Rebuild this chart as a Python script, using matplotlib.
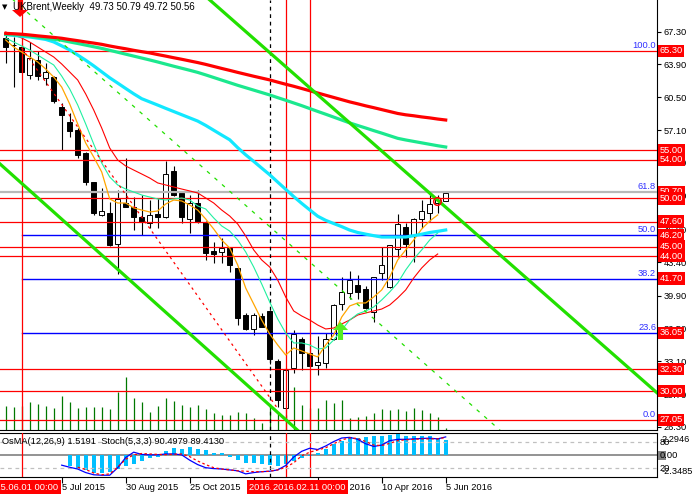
import numpy as np
import matplotlib
matplotlib.use("Agg")
import matplotlib.pyplot as plt
from matplotlib.transforms import blended_transform_factory

plt.rcParams['font.family'] = ['Liberation Sans', 'DejaVu Sans']
FS = 6.7

# weekly bars, index 0 = week of 17 May 2015 ... index 55 = week of 5 Jun 2016
opens = [66.62, 65.95, 65.74, 62.81, 64.36, 62.47, 62.63, 59.52, 57.96, 57.10,
         54.68, 51.68, 48.26, 48.53, 45.28, 49.56, 49.15, 48.05, 47.49, 48.39,
         48.05, 52.84, 50.54, 47.84, 49.50, 47.59, 44.58, 44.48, 44.83, 42.76,
         37.92, 36.43, 37.80, 38.36, 33.14, 28.24, 32.38, 35.40, 34.00, 32.73,
         32.96, 35.40, 39.10, 40.20, 41.05, 40.65, 38.20, 42.30, 40.85, 44.72,
         47.00, 46.10, 47.84, 48.54, 49.50, 49.73]
highs = [67.13, 66.78, 66.10, 66.26, 65.33, 64.02, 62.70, 59.87, 58.84, 57.28,
         54.85, 51.70, 51.06, 49.67, 50.88, 54.17, 50.19, 50.36, 49.84, 50.02,
         53.92, 53.37, 50.60, 50.36, 50.88, 47.65, 45.50, 45.87, 44.90, 42.80,
         38.10, 38.10, 38.10, 38.40, 33.30, 32.40, 36.36, 35.60, 34.98, 35.72,
         36.01, 39.00, 41.90, 42.45, 42.10, 40.95, 41.90, 45.00, 45.20, 48.36,
         47.42, 47.95, 49.84, 50.54, 50.36, 50.79]
lows = [64.02, 61.60, 63.00, 62.36, 62.30, 61.77, 59.94, 55.03, 56.41, 54.20,
        51.40, 48.30, 48.20, 45.10, 42.17, 49.10, 46.73, 46.21, 46.90, 46.90,
        48.00, 50.30, 47.42, 46.39, 47.50, 43.62, 43.30, 43.28, 42.40, 36.88,
        36.36, 35.84, 36.64, 32.80, 28.40, 27.05, 31.90, 32.20, 32.50, 31.70,
        32.38, 35.30, 38.40, 39.60, 39.60, 38.50, 37.20, 41.50, 40.70, 43.96,
        43.96, 43.45, 46.90, 47.70, 48.46, 49.72]
closes = [65.74, 65.90, 63.15, 64.54, 62.71, 63.15, 60.11, 58.66, 57.03, 54.51,
          51.68, 48.46, 48.70, 45.16, 49.91, 49.15, 48.11, 47.59, 48.29, 48.11,
          52.54, 50.36, 48.05, 49.50, 47.59, 44.38, 44.24, 44.83, 43.10, 37.57,
          36.43, 37.92, 36.70, 33.32, 29.10, 32.21, 35.94, 34.00, 32.62, 33.00,
          35.40, 38.94, 40.33, 41.50, 40.33, 38.60, 41.83, 43.10, 45.17, 47.32,
          45.24, 47.85, 48.73, 49.43, 50.00, 50.56]
volumes = [24, 23.3, 24, 28, 26, 24, 22, 34, 28, 22,
           23.3, 23.3, 22.7, 20.7, 38, 53.3, 32, 28, 18, 24,
           32, 28.7, 24.7, 22.7, 25.3, 20.7, 16.7, 15.3, 15.3, 18,
           17, 12, 7.3, 23.3, 18.3, 15, 43, 25.3, 21.7, 22,
           30, 27, 30, 11.7, 13, 13.7, 17, 21, 19.7, 21,
           18.7, 22, 20.3, 17, 13, 2]

# moving averages as they appear on the chart
ma_orange = [66.44, 65.71, 65.19, 64.68, 64.16, 63.43, 62.60, 61.56, 59.80, 57.73,
             55.75, 54.30, 52.75, 49.95, 49.53, 49.53, 49.02, 48.80, 48.60, 48.70,
             49.43, 49.84, 49.74, 49.32, 48.80, 47.87, 46.83, 45.69, 44.86, 43.10,
             40.71, 39.05, 37.39, 35.94, 34.80, 33.76, 34.49, 34.18, 33.87, 33.56,
             34.80, 35.84, 37.70, 38.85, 39.16, 39.16, 39.78, 40.51, 41.85, 43.62,
             44.66, 45.69, 46.83, 47.66, 48.29]
ma_spring = [66.65, 66.23, 65.82, 65.40, 64.88, 64.36, 63.85, 62.70, 61.36, 59.70,
             57.73, 55.65, 53.68, 52.23, 51.40, 50.98, 50.67, 50.36, 50.15, 49.95,
             49.84, 49.95, 50.05, 49.84, 49.22, 48.91, 47.98, 47.15, 46.62, 45.69,
             44.45, 42.89, 41.13, 39.26, 37.50, 36.04, 35.01, 35.01, 34.80, 34.38,
             34.49, 35.32, 36.36, 37.39, 38.02, 38.33, 38.74, 39.47, 40.30, 41.23,
             42.58, 43.72, 44.66, 45.69, 46.42]
ma_redthin = [67.27, 66.96, 66.65, 66.23, 65.71, 65.19, 64.68, 63.95, 63.12, 62.29,
              60.84, 59.18, 57.31, 55.24, 53.99, 53.37, 52.95, 52.54, 52.12, 51.61,
              51.40, 51.19, 50.98, 50.78, 50.57, 50.05, 49.53, 48.80, 48.18, 47.35,
              46.11, 44.66, 43.62, 42.89, 41.54, 39.78, 38.33, 37.81, 37.39, 36.87,
              36.46, 36.56, 36.98, 37.39, 37.91, 38.12, 38.33, 38.53, 38.95, 39.68,
              40.51, 41.75, 42.79, 43.62, 44.24]
ma_cyan = [67.00, 66.92, 66.83, 66.75, 66.63, 66.50, 66.24, 65.83, 65.41, 64.88,
           64.34, 63.76, 63.14, 62.52, 61.97, 61.41, 60.86, 60.35, 60.02, 59.69,
           59.35, 59.02, 58.69, 58.36, 58.03, 57.58, 57.08, 56.58, 56.09, 55.27,
           54.53, 53.85, 53.15, 52.46, 51.70, 50.95, 50.20, 49.49, 48.82, 48.16,
           47.73, 47.40, 47.08, 46.72, 46.47, 46.30, 46.14, 46.00, 46.00, 46.00,
           46.00, 46.14, 46.29, 46.47, 46.59, 46.73]
ma_green = [67.03, 66.99, 66.94, 66.83, 66.73, 66.63, 66.52, 66.41, 66.24, 66.08,
            65.91, 65.74, 65.57, 65.37, 65.17, 64.97, 64.77, 64.57, 64.37, 64.16,
            63.94, 63.72, 63.51, 63.30, 63.08, 62.82, 62.55, 62.28, 62.01, 61.74,
            61.49, 61.24, 60.99, 60.74, 60.46, 60.19, 59.91, 59.63, 59.33, 59.03,
            58.74, 58.44, 58.14, 57.84, 57.57, 57.31, 57.04, 56.78, 56.51, 56.24,
            56.07, 55.92, 55.77, 55.62, 55.47, 55.34]
ma_red = [67.13, 67.09, 67.04, 66.96, 66.87, 66.79, 66.71, 66.62, 66.49, 66.37,
          66.24, 66.12, 65.99, 65.82, 65.67, 65.53, 65.37, 65.23, 65.10, 64.93,
          64.77, 64.60, 64.44, 64.27, 64.10, 63.91, 63.70, 63.49, 63.29, 63.08,
          62.88, 62.68, 62.49, 62.30, 62.07, 61.85, 61.64, 61.41, 61.18, 60.94,
          60.71, 60.48, 60.25, 60.02, 59.82, 59.61, 59.42, 59.22, 59.02, 58.82,
          58.68, 58.58, 58.46, 58.36, 58.24, 58.14]

# lower window
osma_start = 8
osma = [-1.15, -1.47, -1.62, -1.89, -1.94, -1.78, -1.47, -1.15, -1.00, -0.66, -0.37, -0.26,
        0.39, 0.73, 0.63, 0.81, 0.63, 0.45, 0.21, 0.14,
        -0.21, -0.56, -0.84, -0.91, -0.94, -1.08, -1.18, -1.02, -0.66, -0.31, -0.14,
        0.21, 0.56, 1.08, 1.47, 1.83, 1.71, 1.89, 1.92, 1.92, 2.05, 2.15, 1.96, 1.96,
        1.96, 1.92, 1.73, 1.52]
stoch_start = 7
stoch_main = [26.7, 22, 18, 10, 5, 4, 4, 21, 44, 56, 51, 50, 50, 52, 52, 50, 38, 28, 21, 19,
              18, 16, 14, 7, 10, 12, 13, 16, 26, 45, 58, 65, 62, 70, 80, 88, 89.5, 85, 75, 69,
              72, 82, 85, 85, 86, 87, 87.6, 86, 90.5]
signal_start = 9
stoch_signal = [22, 17, 9, 5, 7, 22, 40, 50, 53, 52, 51, 50.5, 51.5, 52, 46, 36, 28, 21, 18, 16,
                14, 13, 12, 12, 13, 16, 22, 32, 48, 56, 61, 66, 75, 84, 88, 87, 80, 72, 71, 76,
                82, 84, 85, 86, 86, 86, 89.4]

price_ticks = [67.30, 63.90, 60.50, 57.10, 53.70, 50.30, 46.80, 43.40, 39.90, 36.50, 33.10, 29.70, 26.30]
red_levels = [65.30, 55.00, 54.00, 50.00, 47.60, 45.00, 44.00, 32.30, 30.00, 27.05]
grey_level = 50.70
box_levels = [65.30, 55.00, 54.00, 50.70, 50.00, 47.60, 46.20, 45.00, 44.00, 41.70, 36.05, 32.30, 30.00, 27.05]
fib_low, fib_high, fib_start = 27.05, 65.30, 2
fib_ratios = [0.0, 23.6, 38.2, 50.0, 61.8, 100.0]
fib_blue = [23.6, 38.2, 50.0]

# trend lines: (week, price) pairs
chan_upper = [(25.5, 70.6), (81.4, 29.85)]
chan_lower = [(-0.71, 53.58), (37.5, 25.2)]
green_dash = [(0.4, 71.0), (62.0, 25.8)]
red_dots = [(2, 65.6), (34, 28.2)]

# arrow objects: (week, tip price, head base price, tail price, head half width, shaft half width)
sell_arrow = (1.79, 68.83, 69.55, 70.59, 1.0, 0.28)
buy_arrow = (41.85, 37.19, 36.35, 35.32, 0.95, 0.32)
mark_circle = (53.9, 49.74)

date_ticks = [7, 15, 23, 31, 39, 47, 55]
date_labels = ['5 Jul 2015', '30 Aug 2015', '25 Oct 2015', '20 Dec 2015',
               '14 Feb 2016', '10 Apr 2016', '5 Jun 2016']
vlines_red = [2, 35, 38]
vline_dash = 33
red_dates = [(2, '2015.06.01 00:00'), (35, '2016.01.18 00:00'), (38, '2016.02.11 00:00')]

W, H = 696, 498
def fx(px):
    return px / W
def fy(py):
    return 1 - py / H

fig = plt.figure(figsize=(W / 100, H / 100), dpi=100)
ax = fig.add_axes([0, fy(430), fx(657), 430 / H])
ax2 = fig.add_axes([0, fy(477), fx(657), (477 - 432.7) / H])
XL = (-0.7125, 81.4125)

# ---- main window
ax.set_xlim(*XL)
ax.set_ylim(25.98, 70.59)
x = np.arange(len(opens))
o = np.array(opens); c = np.array(closes)

ax.vlines(x, 0, np.array(volumes) / 430.0, transform=ax.get_xaxis_transform(),
          color='#007800', lw=0.9, zorder=2)

ax.vlines(x, lows, highs, color='black', lw=0.8, zorder=3)
body_lo = np.minimum(o, c)
body_h = np.maximum(np.abs(c - o), 0.06)
body_col = ['white' if cc >= oo else 'black' for oo, cc in zip(o, c)]
ax.bar(x, body_h, bottom=body_lo, width=0.6, color=body_col, edgecolor='black', lw=0.7, zorder=4)

for lv in red_levels:
    ax.axhline(lv, color='#ff0000', lw=0.9, zorder=5)
ax.axhline(grey_level, color='#b8b8b8', lw=1.6, zorder=5)
fib_val = {r: fib_low + r / 100.0 * (fib_high - fib_low) for r in fib_ratios}
for r in fib_blue:
    ax.plot([fib_start, XL[1]], [fib_val[r]] * 2, color='#0000ff', lw=1.0, zorder=5)
for r in fib_ratios:
    ax.text(81.3, fib_val[r] + 0.12, f'{r:.1f}', color='#3030ff', fontsize=FS,
            ha='right', va='bottom', zorder=8)

for kk in vlines_red:
    ax.axvline(kk, color='#ff0000', lw=0.9, zorder=5)
    ax2.axvline(kk, color='#ff0000', lw=0.9, zorder=5)
ax.axvline(vline_dash, color='black', lw=0.9, ls=(0, (3, 3)), zorder=5)
ax2.axvline(vline_dash, color='black', lw=0.9, ls=(0, (3, 3)), zorder=5)

n_thin = len(ma_orange)
ax.plot(x[:n_thin], ma_redthin, color='#ff0000', lw=0.8, zorder=6)
ax.plot(x[:n_thin], ma_spring, color='#20f0a0', lw=0.8, zorder=6)
ax.plot(x[:n_thin], ma_orange, color='#ffa500', lw=0.9, zorder=6)
ax.plot(x, ma_cyan, color='#12e8ff', lw=2.3, zorder=6)
ax.plot(x, ma_green, color='#1be88e', lw=2.3, zorder=6)
ax.plot(x, ma_red, color='#ff0000', lw=2.3, zorder=6)

for line in (chan_upper, chan_lower):
    ax.plot(*zip(*line), color='#22e000', lw=2.3, zorder=7)
ax.plot(*zip(*green_dash), color='#22e000', lw=0.9, ls=(0, (3, 5)), zorder=7)
ax.plot(*zip(*red_dots), color='#ff0000', lw=0.9, ls=(0, (2, 3)), zorder=7)


def arrow(spec, color):
    k, tip, base, tail, hw, sw = spec
    xs = [k, k - hw, k - sw, k - sw, k + sw, k + sw, k + hw]
    ys = [tip, base, base, tail, tail, base, base]
    ax.fill(xs, ys, color=color, lw=0, zorder=9, clip_on=False)


arrow(sell_arrow, '#ff0000')
arrow(buy_arrow, '#55ee22')
ax.plot([mark_circle[0]], [mark_circle[1]], marker='o', ms=5.5, mfc='none', mec='#ff0000',
        mew=1.1, zorder=9)

ax.yaxis.tick_right()
ax.set_yticks(price_ticks, [f'{p:.2f}' for p in price_ticks])
ax.tick_params(axis='y', direction='out', length=3, width=0.8, pad=1.5, labelsize=FS)
ax.set_xticks([])
for s in ('left', 'top'):
    ax.spines[s].set_visible(False)

trans = blended_transform_factory(ax.transAxes, ax.transData)
for lv in box_levels:
    ax.text(1 + 2.5 / 657, lv, f'{lv:.2f}', transform=trans, color='white', fontsize=FS,
            va='center', ha='left', clip_on=False, zorder=10,
            bbox=dict(boxstyle='square,pad=0.18', fc='#ff0000', ec='none'))

# ---- lower window
ax2.set_xlim(*XL)
ax2.set_ylim(-2.3485, 2.2946)
ax2.bar(np.arange(osma_start, osma_start + len(osma)), osma, width=0.5, color='#00bfff', zorder=3)
ax2.axhline(0, color='#808080', lw=1.2, zorder=2)
ax3 = ax2.twinx()
ax3.set_xlim(*XL)
ax3.set_ylim(0, 100)
for lv in (80, 20):
    ax3.axhline(lv, color='#c0c0c0', lw=0.9, ls=(0, (3, 3)), zorder=1)
ax3.plot(np.arange(stoch_start, stoch_start + len(stoch_main)), stoch_main,
         color='#0000ff', lw=0.9, zorder=4)
ax3.plot(np.arange(signal_start, signal_start + len(stoch_signal)), stoch_signal,
         color='#ff0000', lw=0.9, ls=(0, (2, 2)), zorder=4)
ax3.set_yticks([])
for s in ax3.spines.values():
    s.set_visible(False)
ax2.set_yticks([])
ax2.spines['left'].set_visible(False)
ax2.set_xticks(date_ticks, [''] * len(date_ticks))
ax2.tick_params(axis='x', direction='out', length=4, width=0.8)

dtrans = blended_transform_factory(ax2.transData, fig.transFigure)
for kk, lbl in zip(date_ticks, date_labels):
    ax2.text(kk + 0.1, fy(487), lbl, transform=dtrans, fontsize=FS, ha='left', va='center',
             clip_on=False)
for kk, lbl in red_dates:
    ax2.text(kk, fy(487), lbl, transform=dtrans, fontsize=FS, ha='center', va='center',
             color='white', clip_on=False, zorder=10,
             bbox=dict(boxstyle='square,pad=0.25', fc='#ff0000', ec='none'))

fig.text(fx(2), fy(441.5), 'OsMA(12,26,9) 1.5191  Stoch(5,3,3) 90.4979 89.4130',
         fontsize=FS, va='center', ha='left')
fig.text(fx(662), fy(439), '2.2946', fontsize=FS, va='center', ha='left')
fig.text(fx(660), fy(442), '80', fontsize=FS, va='center', ha='left')
fig.patches.append(plt.Rectangle((fx(658), fy(460)), fx(8), 9 / H, transform=fig.transFigure,
                                 fc='#808080', ec='none'))
fig.text(fx(659.5), fy(455.3), '0.00', fontsize=FS, va='center', ha='left')
fig.text(fx(660), fy(468.5), '20', fontsize=FS, va='center', ha='left')
fig.text(fx(662), fy(471), '-2.3485', fontsize=FS, va='center', ha='left')

fig.text(fx(2), fy(7.5), '\u25bc', fontsize=5, va='center', ha='left',
         family=['DejaVu Sans'])
fig.text(fx(13), fy(7.5), 'UKBrent,Weekly  49.73 50.79 49.72 50.56', fontsize=FS + 0.3,
         va='center', ha='left')

fig.savefig('out.png', dpi=100, facecolor='white')
